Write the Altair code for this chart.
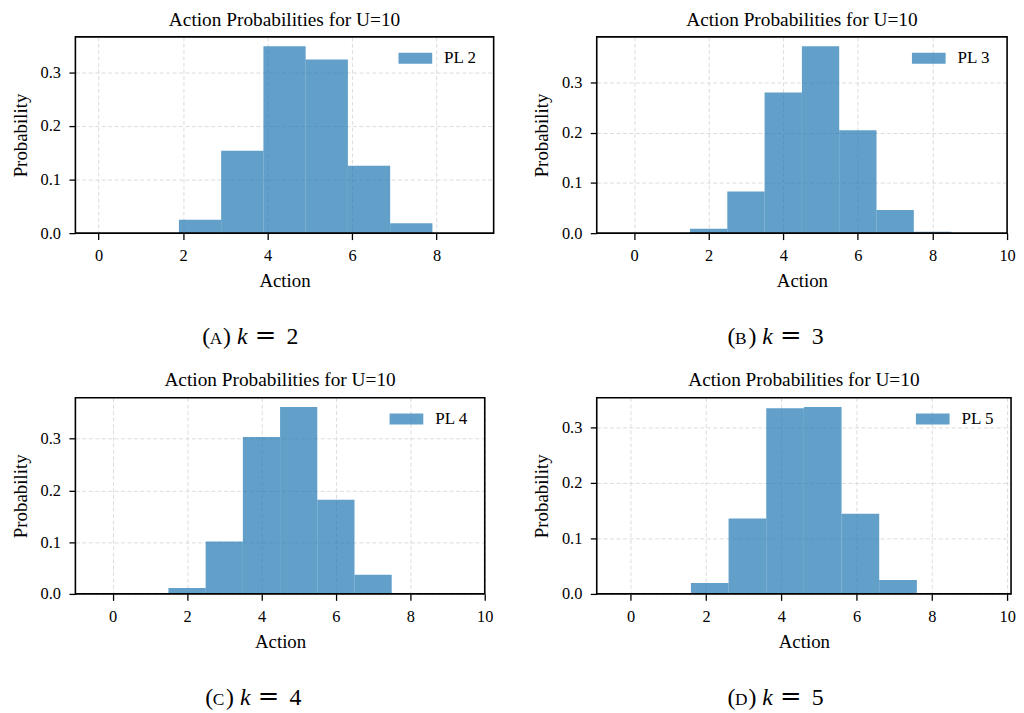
import altair as alt
import pandas as pd

# ---------------- data ----------------
actions = list(range(10))
probs_k2 = [0.0, 0.0, 0.025, 0.154, 0.349, 0.324, 0.126, 0.0185, 0.0]
probs_k3 = [0.0, 0.0, 0.0085, 0.083, 0.280, 0.372, 0.205, 0.046, 0.003, 0.0]
probs_k4 = [0.0, 0.0, 0.0115, 0.101, 0.303, 0.361, 0.182, 0.037, 0.002, 0.0]
probs_k5 = [0.0, 0.0, 0.0196, 0.136, 0.3345, 0.3368, 0.1446, 0.025, 0.0, 0.0]
bin_shift = {"k2": -0.1, "k3": -0.5, "k4": -0.5, "k5": -0.4}
legend_labels = ["PL 2", "PL 3", "PL 4", "PL 5"]
caption_letters = ["A", "B", "C", "D"]
k_values = ["2", "3", "4", "5"]
title_text = "Action Probabilities for U=10"
y_ticks = [0.0, 0.1, 0.2, 0.3]

SERIF = "Liberation Serif"
BLUE = "#1f77b4"
PLOT_H = 198


def caption(letter, kval, x0):
    y = PLOT_H + 112
    one = pd.DataFrame({"d": [0]})
    parts = [
        ("(", x0, 24, "normal", SERIF),
        (letter, x0 + 7.5, 17.5, "normal", SERIF),
        (")", x0 + 21, 24, "normal", SERIF),
        ("k", x0 + 35, 24, "italic", SERIF),
        ("=", x0 + 53, 26, "normal", "DejaVu Serif"),
        (kval, x0 + 85, 24, "normal", SERIF),
    ]
    layers = []
    for txt, x, size, style, font in parts:
        layers.append(
            alt.Chart(one)
            .mark_text(align="left", baseline="alphabetic", font=font,
                       fontSize=size, fontStyle=style, color="black")
            .encode(x=alt.value(x), y=alt.value(y), text=alt.value(txt))
        )
    return layers


def frame(width):
    one = pd.DataFrame({"d": [0]})
    return alt.Chart(one).mark_rect(fillOpacity=0, stroke="black", strokeWidth=1.6).encode(
        x=alt.value(0), x2=alt.value(width), y=alt.value(0), y2=alt.value(PLOT_H)
    )


def panel(probs, shift, width, xdomain, xticks, label, letter, kval, cap_x):
    n = len(probs)
    df = pd.DataFrame({
        "start": [a + shift for a in actions[:n]],
        "end": [a + shift + 1 for a in actions[:n]],
        "prob": probs,
        "series": [label] * n,
    })
    ymax = max(probs) * 1.05
    bars = alt.Chart(df).mark_rect(opacity=0.7).encode(
        x=alt.X("start:Q",
                scale=alt.Scale(domain=xdomain, nice=False, zero=False),
                axis=alt.Axis(values=xticks, title="Action", format="d")),
        x2="end:Q",
        y=alt.Y("prob:Q",
                scale=alt.Scale(domain=[0, ymax], nice=False, zero=True),
                axis=alt.Axis(values=y_ticks, format=".1f", title="Probability")),
        y2=alt.datum(0),
        color=alt.Color("series:N",
                        scale=alt.Scale(domain=[label], range=[BLUE]),
                        legend=alt.Legend(
                            title=None, orient="none", legendX=width - 96, legendY=4.5,
                            padding=0,
                            symbolType="M-1,-0.33H1V0.33H-1Z", symbolSize=1156,
                            symbolStrokeWidth=0, symbolOpacity=0.7,
                            labelFont=SERIF, labelFontSize=17.2, labelColor="black",
                            labelOffset=12)),
    )
    return alt.layer(bars, frame(width), *caption(letter, kval, cap_x)).properties(
        width=width, height=PLOT_H,
        title=alt.Title(title_text, frame="group", anchor="middle",
                        font=SERIF, fontSize=19.5, fontWeight="normal",
                        color="black", offset=6),
    )


pA = panel(probs_k2, bin_shift["k2"], 422, [-0.55, 9.35], [0, 2, 4, 6, 8],
           legend_labels[0], caption_letters[0], k_values[0], 128)
pB = panel(probs_k3, bin_shift["k3"], 414, [-1, 10], [0, 2, 4, 6, 8, 10],
           legend_labels[1], caption_letters[1], k_values[1], 132)
pC = panel(probs_k4, bin_shift["k4"], 413, [-1, 10], [0, 2, 4, 6, 8, 10],
           legend_labels[2], caption_letters[2], k_values[2], 131)
pD = panel(probs_k5, bin_shift["k5"], 418, [-0.9, 10.1], [0, 2, 4, 6, 8, 10],
           legend_labels[3], caption_letters[3], k_values[3], 132)

row1 = alt.hconcat(pA, pB, spacing=38).resolve_scale(color="independent").resolve_legend(color="independent")
row2 = alt.hconcat(pC, pD, spacing=39).resolve_scale(color="independent").resolve_legend(color="independent")

chart = (
    alt.vconcat(row1, row2, spacing=21)
    .resolve_scale(color="independent")
    .resolve_legend(color="independent")
    .properties(padding={"left": 3, "top": -2, "right": 0, "bottom": 0})
    .configure_view(strokeWidth=0)
    .configure_axis(
        labelFont=SERIF, labelFontSize=16.5, labelColor="black",
        titleFont=SERIF, titleFontSize=19, titleFontWeight="normal", titleColor="black",
        tickColor="black", tickWidth=1.3, tickSize=6.5, domain=False,
        gridColor="#dcdcdc", gridDash=[4, 2.5], gridWidth=1,
        labelFlush=False,
    )
    .configure_axisX(labelPadding=8, titlePadding=8)
    .configure_axisY(labelPadding=8.5, titlePadding=10)
)

chart.save("out.html", embed_options={"renderer": "svg", "actions": False})
